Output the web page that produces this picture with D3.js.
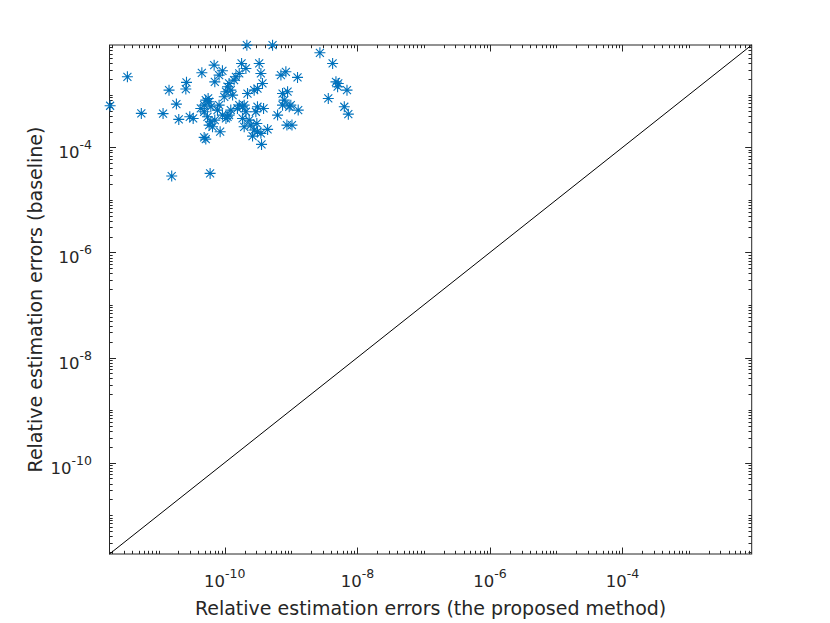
<!DOCTYPE html>
<html>
<head>
<meta charset="utf-8">
<script src="https://cdn.jsdelivr.net/npm/d3@7"></script>
<style>
  body { margin: 0; background: #fff; }
  text { font-family: "DejaVu Sans", "Liberation Sans", sans-serif; fill: #262626; }
</style>
</head>
<body>
<div id="chart"></div>
<script>
// errors of the proposed method (x) and the baseline (y)
var proposedErr = [
  1.86e-12, 3.39e-12, 5.5e-12, 1.17e-11, 1.44e-11, 1.58e-11, 1.86e-11, 2.02e-11, 2.64e-11, 2.58e-11,
  2.96e-11, 3.33e-11, 4.50e-11, 4.88e-11, 5.16e-11, 6.0e-11, 6.9e-11, 7.06e-11, 8.5e-11, 9.2e-11,
  4.34e-11, 4.88e-11, 5.16e-11, 5.6e-11, 5.8e-11, 4.88e-11, 5.47e-11, 6.15e-11, 5.8e-11, 6.52e-11,
  7.06e-11, 7.74e-11, 8.2e-11, 9.2e-11, 9.8e-11, 1.04e-10, 1.10e-10, 1.16e-10, 1.23e-10, 1.31e-10,
  1.10e-10, 1.04e-10, 1.16e-10, 1.38e-10, 1.47e-10, 1.65e-10, 1.79e-10, 2.08e-10, 2.20e-10, 1.65e-10,
  1.85e-10, 1.96e-10, 2.08e-10, 1.85e-10, 2.33e-10, 2.47e-10, 2.77e-10, 2.62e-10, 3.11e-10, 3.5e-10,
  2.94e-10, 3.11e-10, 3.3e-10, 3.5e-10, 3.7e-10, 2.77e-10, 3.11e-10, 3.58e-10, 3.84e-10, 4.42e-10,
  6.25e-10, 7.02e-10, 7.43e-10, 8.34e-10, 7.87e-10, 8.85e-10, 9.37e-10, 9.9e-10, 8.65e-10, 1.03e-9,
  1.25e-9, 1.28e-9, 5.25e-10, 2.15e-10, 2.72e-9, 4.23e-9, 4.75e-9, 5.15e-9, 5.03e-9, 3.64e-9,
  6.97e-9, 6.35e-9, 7.3e-9, 8.2e-11, 6.15e-11, 1.55e-10, 1.23e-10, 7.43e-10, 1.96e-10, 3.04e-10
];
var baselineErr = [
  6.21e-4, 2.21e-3, 4.44e-4, 4.4e-4, 1.23e-3, 2.85e-5, 6.67e-4, 3.41e-4, 1.73e-3, 1.29e-3,
  3.83e-4, 3.56e-4, 2.63e-3, 1.55e-4, 1.44e-4, 3.2e-5, 3.68e-3, 1.77e-3, 1.99e-4, 2.87e-3,
  5.52e-4, 6.38e-4, 7.94e-4, 8.55e-4, 7.4e-4, 4.77e-4, 3.83e-4, 3.08e-4, 2.66e-4, 2.47e-4,
  3.31e-4, 5.13e-4, 6.38e-4, 4.12e-4, 9.2e-4, 1.15e-3, 1.43e-3, 1.65e-3, 1.23e-3, 9.9e-4,
  3.83e-4, 3.56e-4, 4.12e-4, 1.91e-3, 2.21e-3, 2.56e-3, 3.96e-3, 3.18e-3, 1.06e-3, 6.38e-4,
  5.94e-4, 6.38e-4, 4.77e-4, 3.56e-4, 3.31e-4, 2.66e-4, 2.14e-4, 1.64e-4, 1.99e-4, 1.85e-4,
  4.77e-4, 5.94e-4, 3.96e-3, 2.56e-3, 1.65e-3, 1.23e-3, 1.32e-3, 1.14e-4, 5.52e-4, 2.2e-4,
  4.12e-4, 2.38e-3, 1.06e-3, 2.75e-3, 7.94e-4, 1.15e-3, 5.94e-4, 6.38e-4, 2.66e-4, 2.66e-4,
  2.15e-3, 5.13e-4, 8.85e-3, 8.85e-3, 6.32e-3, 3.96e-3, 1.77e-3, 1.65e-3, 1.43e-3, 8.55e-4,
  1.23e-3, 5.94e-4, 4.3e-4, 2.38e-3, 5.94e-4, 5.52e-4, 5.13e-4, 6.38e-4, 2.47e-4, 2.86e-4
];
var axisLimits = [1.82e-12, 8.9e-3];   // same for both axes, the y = x line spans it
var xTickExps = [-10, -8, -6, -4];
var yTickExps = [-10, -8, -6, -4];
var xLabel = "Relative estimation errors (the proposed method)";
var yLabel = "Relative estimation errors (baseline)";

var W = 830, H = 623;
var mLeft = 109.5, mTop = 45, pw = 642.2, ph = 509;
var axisColor = "#262626", markColor = "#0072BD";

var svg = d3.select("#chart").append("svg")
  .attr("width", W).attr("height", H);

var x = d3.scaleLog().domain(axisLimits).range([mLeft, mLeft + pw]);
var y = d3.scaleLog().domain(axisLimits).range([mTop + ph, mTop]);

// minor ticks everywhere, long ticks only at the labelled decades
function isMajor(v, exps) {
  var l = Math.log10(v), e = Math.round(l);
  return Math.abs(l - e) < 1e-9 && exps.indexOf(e) >= 0;
}
var tickG = svg.append("g").attr("stroke", axisColor).attr("stroke-width", 1);
x.ticks(20).forEach(function(v) {
  var len = isMajor(v, xTickExps) ? 6.5 : 3.2;
  var px = Math.round(x(v)) + 0.5;
  tickG.append("line").attr("x1", px).attr("x2", px).attr("y1", mTop + ph).attr("y2", mTop + ph - len);
  tickG.append("line").attr("x1", px).attr("x2", px).attr("y1", mTop).attr("y2", mTop + len);
});
y.ticks(20).forEach(function(v) {
  var len = isMajor(v, yTickExps) ? 6.5 : 3.2;
  var py = Math.round(y(v)) + 0.5;
  tickG.append("line").attr("x1", mLeft).attr("x2", mLeft + len).attr("y1", py).attr("y2", py);
  tickG.append("line").attr("x1", mLeft + pw).attr("x2", mLeft + pw - len).attr("y1", py).attr("y2", py);
});

// box
svg.append("rect")
  .attr("x", mLeft).attr("y", mTop).attr("width", pw).attr("height", ph)
  .attr("fill", "none").attr("stroke", axisColor).attr("stroke-width", 1);

// tick labels 10^e
xTickExps.forEach(function(e) {
  var t = svg.append("text")
    .attr("x", x(Math.pow(10, e))).attr("y", 587)
    .attr("text-anchor", "middle").style("font-size", "16.5px");
  t.append("tspan").text("10");
  t.append("tspan").attr("dy", -9).style("font-size", "12.5px").text(String(e));
});
yTickExps.forEach(function(e) {
  var t = svg.append("text")
    .attr("x", 92).attr("y", y(Math.pow(10, e)) + 11)
    .attr("text-anchor", "end").style("font-size", "16.5px");
  t.append("tspan").text("10");
  t.append("tspan").attr("dy", -9).style("font-size", "12.5px").text(String(e));
});

// y = x reference line
svg.append("line")
  .attr("x1", x(axisLimits[0])).attr("y1", y(axisLimits[0]))
  .attr("x2", x(axisLimits[1])).attr("y2", y(axisLimits[1]))
  .attr("stroke", "#000").attr("stroke-width", 1);

// '*' markers
var star = "M-5.5,0H5.5M0,-5.5V5.5M-4,-4L4,4M-4,4L4,-4";
svg.append("g").selectAll("path")
  .data(proposedErr.map(function(d, i) { return [d, baselineErr[i]]; }))
  .enter().append("path")
  .attr("d", star)
  .attr("transform", function(d) { return "translate(" + x(d[0]) + "," + y(d[1]) + ")"; })
  .attr("fill", "none").attr("stroke", markColor).attr("stroke-width", 1.1);

// axis labels
svg.append("text")
  .attr("x", mLeft + pw / 2).attr("y", 615)
  .attr("text-anchor", "middle").style("font-size", "19px")
  .text(xLabel);
svg.append("text")
  .attr("transform", "translate(42," + (mTop + ph / 2) + ") rotate(-90)")
  .attr("text-anchor", "middle").style("font-size", "19px")
  .text(yLabel);
</script>
</body>
</html>
